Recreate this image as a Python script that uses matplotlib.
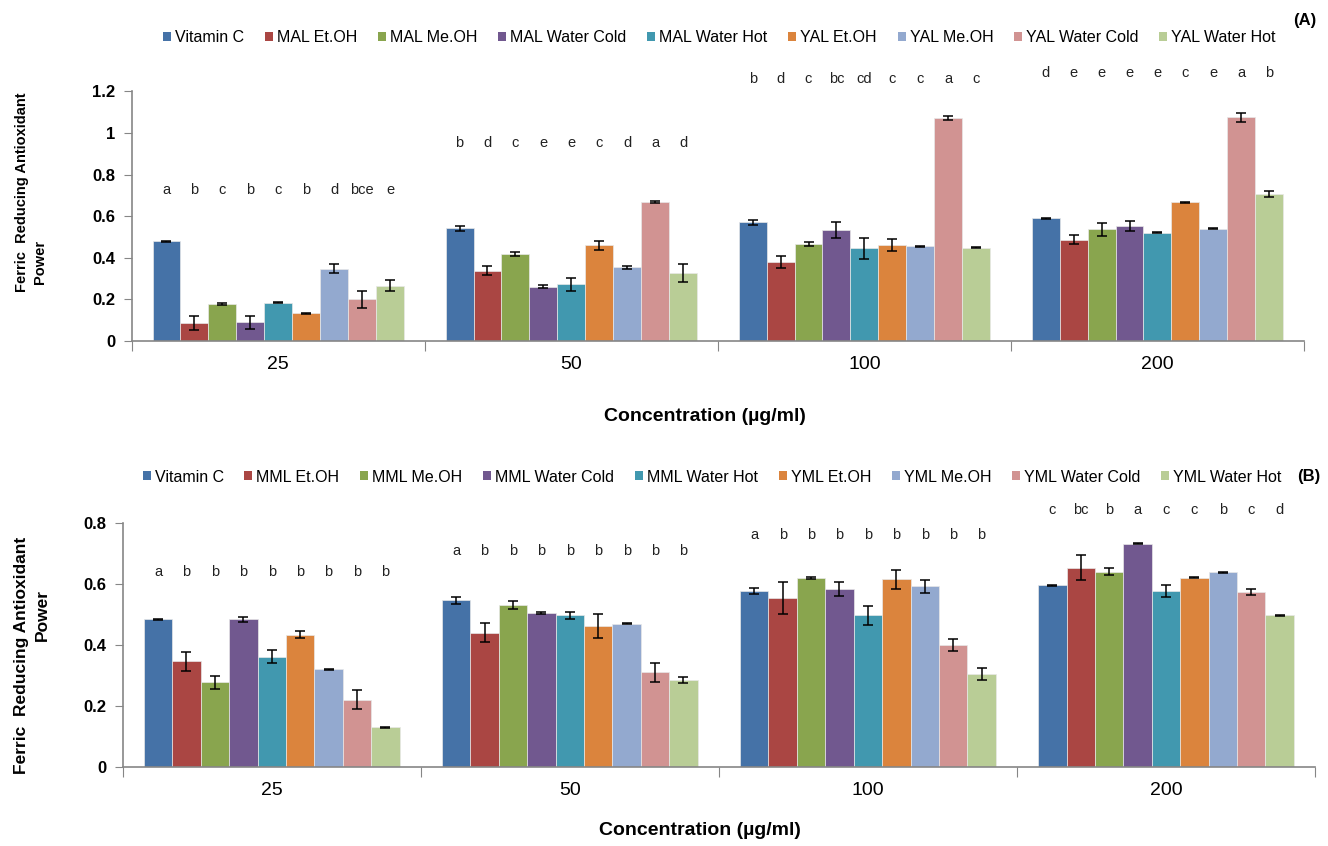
import matplotlib
matplotlib.use("Agg")
import matplotlib.pyplot as plt
from matplotlib.patches import Patch
import numpy as np

plt.rcParams['font.family'] = ['Liberation Sans', 'DejaVu Sans']

categories = ['25', '50', '100', '200']
colors = ['#4572A7', '#AA4643', '#89A54E', '#71588F', '#4198AF',
          '#DB843D', '#93A9CF', '#D19392', '#B9CD96']

# panel A
a_names = ['Vitamin C', 'MAL Et.OH', 'MAL Me.OH', 'MAL Water Cold', 'MAL Water Hot',
           'YAL Et.OH', 'YAL Me.OH', 'YAL Water Cold', 'YAL Water Hot']
a_means = [[0.480, 0.542, 0.572, 0.590],
           [0.085, 0.338, 0.380, 0.486],
           [0.178, 0.417, 0.467, 0.537],
           [0.090, 0.261, 0.535, 0.553],
           [0.184, 0.272, 0.445, 0.520],
           [0.133, 0.460, 0.462, 0.667],
           [0.348, 0.354, 0.455, 0.540],
           [0.200, 0.668, 1.072, 1.075],
           [0.266, 0.327, 0.448, 0.705]]
a_err = [[0.002, 0.013, 0.012, 0.003],
         [0.034, 0.023, 0.030, 0.022],
         [0.003, 0.010, 0.010, 0.030],
         [0.030, 0.007, 0.038, 0.022],
         [0.003, 0.030, 0.052, 0.003],
         [0.003, 0.023, 0.030, 0.002],
         [0.020, 0.008, 0.002, 0.002],
         [0.042, 0.003, 0.011, 0.022],
         [0.026, 0.043, 0.003, 0.014]]
a_letters = [['a', 'b', 'c', 'b', 'c', 'b', 'd', 'bce', 'e'],
             ['b', 'd', 'c', 'e', 'e', 'c', 'd', 'a', 'd'],
             ['b', 'd', 'c', 'bc', 'cd', 'c', 'c', 'a', 'c'],
             ['d', 'e', 'e', 'e', 'e', 'c', 'e', 'a', 'b']]
a_letter_y = [0.725, 0.95, 1.26, 1.29]

# panel B
b_names = ['Vitamin C', 'MML Et.OH', 'MML Me.OH', 'MML Water Cold', 'MML Water Hot',
           'YML Et.OH', 'YML Me.OH', 'YML Water Cold', 'YML Water Hot']
b_means = [[0.483, 0.546, 0.576, 0.595],
           [0.346, 0.440, 0.554, 0.652],
           [0.277, 0.530, 0.619, 0.640],
           [0.483, 0.504, 0.582, 0.731],
           [0.361, 0.496, 0.496, 0.576],
           [0.433, 0.462, 0.614, 0.620],
           [0.319, 0.469, 0.591, 0.638],
           [0.220, 0.310, 0.398, 0.573],
           [0.129, 0.284, 0.304, 0.497]]
b_err = [[0.002, 0.012, 0.010, 0.002],
         [0.031, 0.031, 0.052, 0.041],
         [0.022, 0.012, 0.002, 0.011],
         [0.009, 0.002, 0.022, 0.002],
         [0.020, 0.012, 0.031, 0.021],
         [0.012, 0.039, 0.031, 0.002],
         [0.002, 0.002, 0.021, 0.002],
         [0.031, 0.031, 0.020, 0.011],
         [0.002, 0.010, 0.019, 0.002]]
b_letters = [['a', 'b', 'b', 'b', 'b', 'b', 'b', 'b', 'b'],
             ['a', 'b', 'b', 'b', 'b', 'b', 'b', 'b', 'b'],
             ['a', 'b', 'b', 'b', 'b', 'b', 'b', 'b', 'b'],
             ['c', 'bc', 'b', 'a', 'c', 'c', 'b', 'c', 'd']]
b_letter_y = [0.64, 0.708, 0.76, 0.842]

W, H = 1328, 846
fig = plt.figure(figsize=(W / 100, H / 100), dpi=100)

def px_rect(l, r, top, bottom):
    return [l / W, 1 - bottom / H, (r - l) / W, (bottom - top) / H]

axA = fig.add_axes(px_rect(131.7, 1304, 91.4, 341))
axB = fig.add_axes(px_rect(122.7, 1315, 522.7, 766.7))

off = 0.071
bw = (1 - 2 * off) / 9
gray = '#868686'


def draw(ax, names, means, errs, letters, letter_y, ymax, yticks):
    for s in range(len(names)):
        xs = np.arange(len(categories)) + off + bw * (s + 0.5)
        ax.bar(xs, means[s], width=bw, color=colors[s], edgecolor='#e8e8e8',
               linewidth=0.5)
        ax.errorbar(xs, means[s], yerr=errs[s], fmt='none', ecolor='black',
                    elinewidth=1.1, capsize=3.6, capthick=1.1)
    for g in range(len(categories)):
        for s in range(len(names)):
            ax.text(g + off + bw * (s + 0.5), letter_y[g], letters[g][s],
                    ha='center', va='center', fontsize=10.5, color='#222222',
                    clip_on=False)
    ax.set_xlim(0, len(categories))
    ax.set_ylim(0, ymax)
    ax.set_yticks(yticks)
    ax.set_yticklabels([('%g' % t) for t in yticks], fontsize=12, fontweight='bold')
    ax.set_xticks(np.arange(len(categories) + 1))
    ax.set_xticklabels([])
    ax.set_xticks(np.arange(len(categories)) + 0.5, minor=True)
    ax.set_xticklabels(categories, minor=True, fontsize=14)
    ax.tick_params(axis='x', which='minor', length=0, pad=11)
    ax.tick_params(axis='x', which='major', length=7, color=gray, direction='out')
    ax.tick_params(axis='y', length=6, color=gray, direction='out', pad=6)
    for sp in ['top', 'right']:
        ax.spines[sp].set_visible(False)
    for sp in ['left', 'bottom']:
        ax.spines[sp].set_color(gray)
        ax.spines[sp].set_linewidth(1.2)


draw(axA, a_names, a_means, a_err, a_letters, a_letter_y, 1.2,
     [0, 0.2, 0.4, 0.6, 0.8, 1.0, 1.2])
draw(axB, b_names, b_means, b_err, b_letters, b_letter_y, 0.8,
     [0, 0.2, 0.4, 0.6, 0.8])

for names, cx, cy in [(a_names, 719.5, 38), (b_names, 712, 477)]:
    handles = [Patch(facecolor=c, edgecolor='none') for c in colors]
    fig.legend(handles, names, loc='center', bbox_to_anchor=(cx / W, 1 - cy / H),
               ncol=9, frameon=False, fontsize=11.5, handlelength=0.5,
               handleheight=0.5, handletextpad=0.25, columnspacing=1.3,
               borderpad=0, borderaxespad=0)

fig.text(1305 / W, 1 - 20 / H, '(A)', ha='center', va='center',
         fontsize=12, fontweight='bold')
fig.text(1309 / W, 1 - 476 / H, '(B)', ha='center', va='center',
         fontsize=12, fontweight='bold')

fig.text(705 / W, 1 - 416 / H, 'Concentration (\u00b5g/ml)', ha='center',
         va='center', fontsize=14, fontweight='bold')
fig.text(700 / W, 1 - 830 / H, 'Concentration (\u00b5g/ml)', ha='center',
         va='center', fontsize=14, fontweight='bold')

# y labels, one line at a time
fig.text(22 / W, 1 - 192 / H, 'Ferric  Reducing Antioxidant', rotation=90,
         ha='center', va='center', fontsize=10.5, fontweight='bold')
fig.text(40 / W, 1 - 262 / H, 'Power', rotation=90,
         ha='center', va='center', fontsize=10.5, fontweight='bold')
fig.text(22 / W, 1 - 655 / H, 'Ferric  Reducing Antioxidant', rotation=90,
         ha='center', va='center', fontsize=12.5, fontweight='bold')
fig.text(42 / W, 1 - 615 / H, 'Power', rotation=90,
         ha='center', va='center', fontsize=12.5, fontweight='bold')

fig.savefig('out.png', dpi=100)
